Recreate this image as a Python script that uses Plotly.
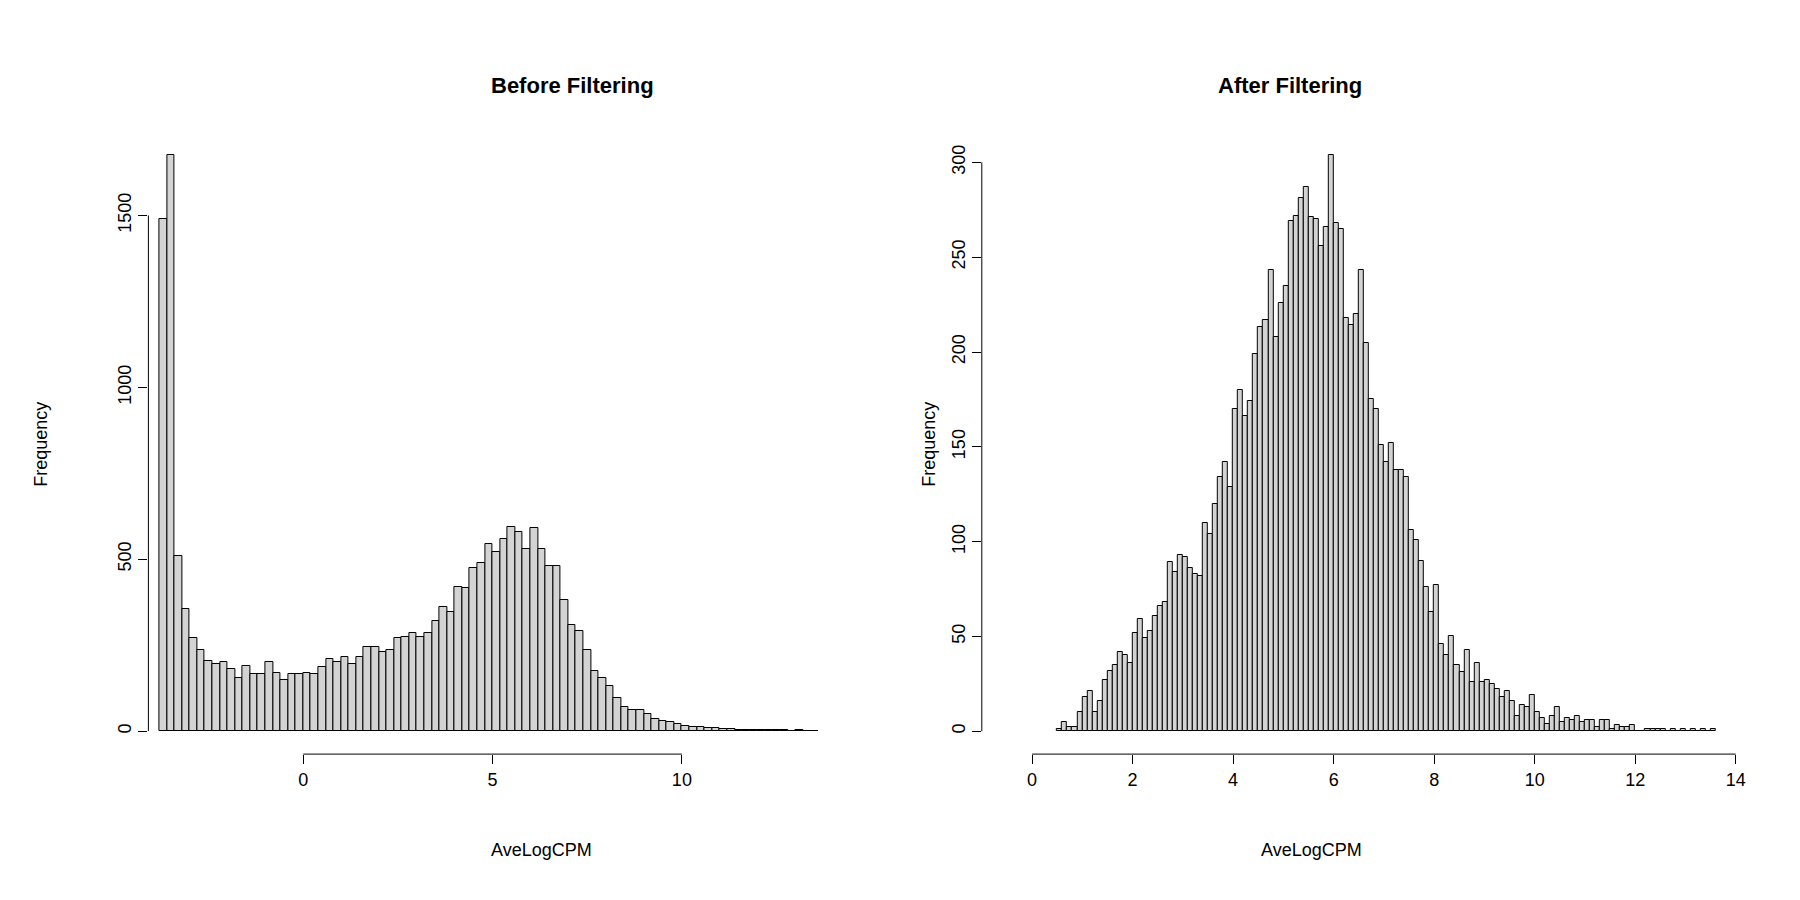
import numpy as np
import plotly.graph_objects as go
from plotly.subplots import make_subplots

# before filtering: bins of 0.2 starting at -3.8
before_start = -3.8
before_width = 0.2
before_counts = [1490, 1675, 510, 355, 270, 235, 205, 195, 200, 180,
                 155, 190, 165, 165, 200, 170, 150, 165, 165, 170,
                 165, 185, 210, 200, 215, 195, 215, 245, 245, 230,
                 235, 270, 275, 285, 275, 285, 320, 360, 345, 420,
                 415, 475, 490, 545, 520, 560, 595, 580, 530, 590,
                 530, 480, 480, 380, 310, 290, 235, 175, 155, 130,
                 95, 70, 60, 60, 50, 35, 30, 25, 20, 15,
                 12, 12, 10, 8, 6, 5, 4, 3, 3, 2,
                 2, 2, 2, 1, 2, 1, 1]

# after filtering: bins of 0.1 starting at 0.5
after_start = 0.5
after_width = 0.1
after_counts = [1, 5, 2, 2, 10, 18, 21, 10, 16, 27,
                32, 35, 42, 40, 36, 52, 59, 49, 53, 61,
                66, 68, 89, 84, 93, 92, 86, 83, 82, 110,
                104, 120, 134, 142, 129, 170, 180, 166, 174, 199,
                213, 217, 243, 208, 226, 235, 269, 272, 281, 287,
                271, 270, 256, 266, 304, 268, 265, 218, 214, 220,
                243, 205, 175, 170, 151, 142, 152, 138, 138, 134,
                106, 101, 90, 76, 63, 77, 46, 40, 50, 35,
                31, 43, 26, 36, 26, 27, 25, 22, 18, 21,
                16, 8, 14, 13, 19, 10, 7, 4, 8, 13,
                5, 7, 6, 8, 5, 6, 6, 2, 6, 6,
                1, 3, 2, 2, 3, 0, 0, 1, 1, 1,
                1, 0, 1, 0, 1, 0, 1, 0, 1, 0, 1]

x_before = before_start + before_width * (np.arange(len(before_counts)) + 0.5)
x_after = after_start + after_width * (np.arange(len(after_counts)) + 0.5)

fig = make_subplots(rows=1, cols=2)
fig.add_trace(go.Bar(x=x_before, y=before_counts, width=before_width,
                     marker=dict(color="#D3D3D3", line=dict(color="black", width=1))), row=1, col=1)
fig.add_trace(go.Bar(x=x_after, y=after_counts, width=after_width,
                     marker=dict(color="#D3D3D3", line=dict(color="black", width=1))), row=1, col=2)

font = "Liberation Sans, Arial, sans-serif"
ax = dict(showgrid=False, zeroline=False, showline=False, ticks="outside", ticklen=9,
          tickwidth=1, tickcolor="black", tickfont=dict(size=18, color="black"))

fig.update_layout(
    width=1800, height=900, showlegend=False, bargap=0,
    plot_bgcolor="white", paper_bgcolor="white",
    margin=dict(l=0, r=0, t=0, b=0),
    font=dict(family=font, color="black"),
    xaxis=dict(ax, domain=[0.078, 0.456], range=[-4.09, 13.88], tickvals=[0, 5, 10]),
    yaxis=dict(ax, domain=[0.171, 0.86], range=[-67, 1737], tickvals=[0, 500, 1000, 1500], tickangle=-90),
    xaxis2=dict(ax, domain=[0.541, 0.966], range=[-1.0, 14.22], tickvals=list(range(0, 15, 2))),
    yaxis2=dict(ax, domain=[0.171, 0.86], range=[-12.1, 315], tickvals=list(range(0, 301, 50)), tickangle=-90),
)

# R-style axis lines spanning only the tick range
line = dict(color="black", width=1)
fig.add_shape(type="line", xref="x", yref="paper", x0=0, x1=10, y0=0.171, y1=0.171, line=line)
fig.add_shape(type="line", xref="paper", yref="y", x0=0.078, x1=0.078, y0=0, y1=1500, line=line)
fig.add_shape(type="line", xref="x2", yref="paper", x0=0, x1=14, y0=0.171, y1=0.171, line=line)
fig.add_shape(type="line", xref="paper", yref="y2", x0=0.541, x1=0.541, y0=0, y1=300, line=line)

# titles and axis labels
for xc, title in [(0.267, "Before Filtering"), (0.7535, "After Filtering")]:
    fig.add_annotation(text="<b>%s</b>" % title, x=xc, y=1 - 55 / 784, xref="paper", yref="paper",
                       showarrow=False, font=dict(size=22))
    fig.add_annotation(text="AveLogCPM", x=xc, y=1 - 744 / 784, xref="paper", yref="paper",
                       showarrow=False, font=dict(size=18))
for xp in [18 / 1568, 802 / 1568]:
    fig.add_annotation(text="Frequency", x=xp, y=0.5155, xref="paper", yref="paper",
                       showarrow=False, textangle=-90, font=dict(size=18))

fig.write_html("out.html")
